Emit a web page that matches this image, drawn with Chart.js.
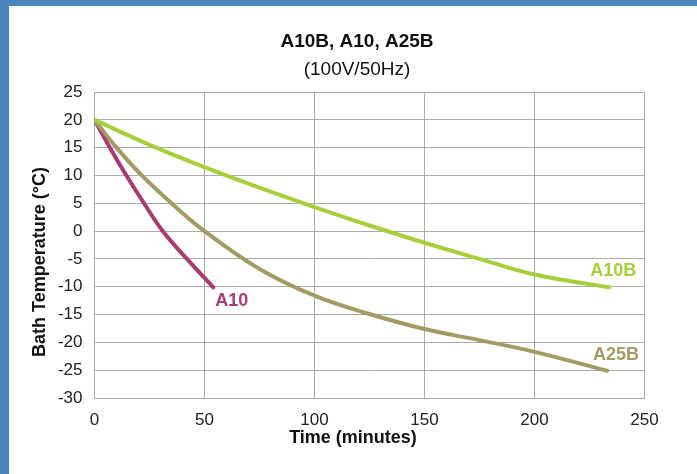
<!DOCTYPE html>
<html>
<head>
<meta charset="utf-8">
<script src="https://cdn.jsdelivr.net/npm/chart.js@4/dist/chart.umd.min.js"></script>
<style>
  html, body { margin: 0; padding: 0; }
  body { width: 697px; height: 474px; background: #4a87be; position: relative; overflow: hidden; }
  #panel { position: absolute; left: 9px; top: 6px; right: 0; bottom: 0; background: #ffffff; }
  #wrap { position: absolute; left: 0; top: 0; width: 697px; height: 474px; }
</style>
</head>
<body>
<div id="panel"></div>
<div id="wrap"><canvas id="c" width="697" height="474"></canvas></div>
<script>
// ---- data ----
const seriesNames = ["A10B", "A10", "A25B"];
const timeA10B = [0, 25, 50, 75, 100, 125, 150, 175, 200, 234];
const tempA10B = [20, 15.5, 11.5, 7.8, 4.3, 1.0, -2.1, -5.0, -7.8, -10.1];
const timeA10  = [0, 7, 14.5, 22.5, 31, 42, 54];
const tempA10  = [20, 15, 10, 5, 0, -5, -10.1];
const timeA25B = [0, 10, 21.5, 35, 50, 75, 100, 125, 150, 175, 200, 233];
const tempA25B = [20, 15, 10, 5, 0, -6.8, -11.6, -14.9, -17.6, -19.6, -21.7, -25.1];
const xTicks = [0, 50, 100, 150, 200, 250];
const yTicks = [25, 20, 15, 10, 5, 0, -5, -10, -15, -20, -25, -30];
const titleText = "A10B, A10, A25B";
const subtitleText = "(100V/50Hz)";
const xTitle = "Time (minutes)";
const yTitle = "Bath Temperature (°C)";

const pts = (xs, ys) => xs.map((x, i) => ({x: x, y: ys[i]}));

const colors = { A10B: "#a6cf3b", A10: "#a63c72", A25B: "#a39b63" };
const FONT = "'Liberation Sans', Arial, Helvetica, sans-serif";

const labelPlugin = {
  id: "labels",
  afterDatasetsDraw(chart) {
    const ctx = chart.ctx;
    const xs = chart.scales.x, ys = chart.scales.y;
    const offs = { A10B: [27, -16, "right"], A25B: [32, -16, "right"], A10: [2, 14, "left"] };
    ctx.save();
    chart.data.datasets.forEach(ds => {
      const last = ds.data[ds.data.length - 1];
      const px = xs.getPixelForValue(last.x), py = ys.getPixelForValue(last.y);
      const o = offs[ds.label];
      ctx.font = "bold 18px " + FONT;
      ctx.fillStyle = ds.borderColor;
      ctx.textAlign = o[2];
      ctx.textBaseline = "middle";
      ctx.fillText(ds.label, px + o[0], py + o[1]);
    });
    // axis titles
    ctx.fillStyle = "#111";
    ctx.font = "bold 18px " + FONT;
    ctx.textAlign = "center";
    ctx.textBaseline = "middle";
    ctx.fillText(xTitle, 353, 438);
    ctx.translate(40, 262);
    ctx.rotate(-Math.PI / 2);
    ctx.fillText(yTitle, 0, 0);
    ctx.restore();
  }
};

new Chart(document.getElementById("c"), {
  type: "line",
  data: {
    datasets: [
      { label: "A10B", data: pts(timeA10B, tempA10B), borderColor: colors.A10B },
      { label: "A25B", data: pts(timeA25B, tempA25B), borderColor: colors.A25B },
      { label: "A10",  data: pts(timeA10, tempA10),  borderColor: colors.A10 }
    ].map(d => Object.assign(d, {
      borderWidth: 4, pointRadius: 0, fill: false,
      tension: 0.4, borderCapStyle: "round", borderJoinStyle: "round"
    }))
  },
  options: {
    responsive: false,
    animation: false,
    layout: { padding: { left: 17, right: 0, top: 0, bottom: 0 } },
    plugins: {
      legend: { display: false },
      tooltip: { enabled: false },
      title: {
        display: true, text: titleText, color: "#111",
        font: { family: FONT, size: 19, weight: "bold", lineHeight: 1.2 },
        padding: { top: 30.6, bottom: 2.6 }
      },
      subtitle: {
        display: true, text: subtitleText, color: "#111",
        font: { family: FONT, size: 19, weight: "normal", lineHeight: 1.2 },
        padding: { top: 2.6, bottom: 10.6 }
      }
    },
    scales: {
      x: {
        type: "linear", min: 0, max: 250,
        afterBuildTicks: s => { s.ticks = xTicks.map(v => ({value: v})); },
        afterFit: s => { s.height = 76; s.paddingRight = 52.5; },
        ticks: { color: "#222", font: { family: FONT, size: 17 }, padding: 12, maxRotation: 0 },
        grid: { color: "#aaaaaa", lineWidth: 1, drawTicks: false },
        border: { color: "#aaaaaa", width: 1 }
      },
      y: {
        type: "linear", min: -30, max: 25,
        afterBuildTicks: s => { s.ticks = yTicks.map(v => ({value: v})); },
        afterFit: s => { s.width = 77.5; },
        ticks: { color: "#222", font: { family: FONT, size: 17 }, padding: 12 },
        grid: { color: "#aaaaaa", lineWidth: 1, drawTicks: false },
        border: { color: "#aaaaaa", width: 1 }
      }
    }
  },
  plugins: [labelPlugin]
});
</script>
</body>
</html>
